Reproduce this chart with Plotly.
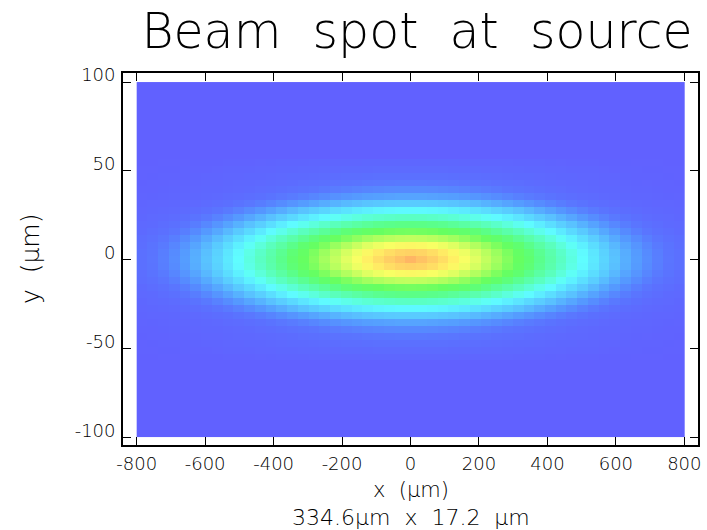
import numpy as np
import plotly.graph_objects as go

# ---------------- data ----------------
title_text = "Beam spot at source"
x_label = "x (μm)"
y_label = "y (μm)"
size_label = "334.6μm\u00a0 x\u00a0 17.2\u00a0 μm"

x_span = [-800, 800]          # histogram range in x (µm)
y_span = [-100, 100]          # histogram range in y (µm)
x_ticks = [-800, -600, -400, -200, 0, 200, 400, 600, 800]
x_ticktext = ["-800", "-600", "-400", "-200", "0", "200", "400", "600", "800"]
y_ticks = [-100, -50, 0, 50, 100]
y_ticktext = ["-100", "-50", "0", "50", "100"]

# relative intensity per bin along x (51 bins, left -> right)
profile_x = [0.044, 0.056, 0.071, 0.089, 0.110, 0.135, 0.164, 0.198, 0.236, 0.278,
             0.325, 0.375, 0.430, 0.487, 0.546, 0.607, 0.667, 0.726, 0.783, 0.835,
             0.882, 0.923, 0.956, 0.980, 0.995, 1.000, 0.995, 0.980, 0.956, 0.923,
             0.882, 0.835, 0.783, 0.726, 0.667, 0.607, 0.546, 0.487, 0.430, 0.375,
             0.325, 0.278, 0.236, 0.198, 0.164, 0.135, 0.110, 0.089, 0.071, 0.056,
             0.044]

# relative intensity per bin along y (51 bins, bottom -> top)
profile_y = [0.0, 0.0, 0.0, 0.0, 0.0, 0.0, 0.0, 0.0, 0.0, 0.0,
             0.0, 0.015, 0.030, 0.045, 0.062, 0.085, 0.120, 0.180, 0.270, 0.375,
             0.500, 0.635, 0.780, 0.900, 0.975, 1.000, 0.975, 0.900, 0.780, 0.635,
             0.500, 0.375, 0.270, 0.180, 0.120, 0.085, 0.062, 0.045, 0.030, 0.015,
             0.0, 0.0, 0.0, 0.0, 0.0, 0.0, 0.0, 0.0, 0.0, 0.0,
             0.0]

# ---------------- colour palette ----------------
level_values = [0.0, 0.008, 0.03, 0.044, 0.056, 0.071, 0.089, 0.110, 0.135, 0.164,
                0.198, 0.236, 0.278, 0.325, 0.375, 0.430, 0.487, 0.546, 0.607, 0.667,
                0.726, 0.783, 0.835, 0.882, 0.923, 0.956, 0.980, 0.995, 1.0]
level_colors = ["rgb(97,97,255)", "rgb(95,101,255)", "rgb(93,107,255)", "rgb(91,112,255)",
                "rgb(90,117,255)", "rgb(88,127,255)", "rgb(86,141,255)", "rgb(85,157,255)",
                "rgb(87,175,255)", "rgb(89,195,255)", "rgb(90,213,255)", "rgb(92,233,255)",
                "rgb(95,253,255)", "rgb(92,255,225)", "rgb(90,255,195)", "rgb(90,255,168)",
                "rgb(90,255,140)", "rgb(95,255,112)", "rgb(102,255,97)", "rgb(132,255,95)",
                "rgb(165,255,95)", "rgb(195,255,95)", "rgb(225,255,98)", "rgb(248,255,100)",
                "rgb(255,240,100)", "rgb(255,222,100)", "rgb(255,207,100)", "rgb(255,195,100)",
                "rgb(255,182,100)"]
colorscale = [[v, c] for v, c in zip(level_values, level_colors)]

z = np.outer(np.array(profile_y), np.array(profile_x))
nx, ny = len(profile_x), len(profile_y)
dx = (x_span[1] - x_span[0]) / nx
dy = (y_span[1] - y_span[0]) / ny

FONT = "DejaVu Sans, Inter, sans-serif"
W = 200

fig = go.Figure(go.Heatmap(
    z=z, x0=x_span[0] + dx / 2, dx=dx, y0=y_span[0] + dy / 2, dy=dy,
    colorscale=colorscale, zmin=0, zmax=1, showscale=False, zsmooth=False,
    hoverinfo="skip"))

axis_common = dict(showline=True, linewidth=1.8, linecolor="black", mirror="ticks",
                   ticks="inside", ticklen=8, tickwidth=1.3, tickcolor="black",
                   showgrid=False, zeroline=False, automargin=False,
                   tickfont=dict(family=FONT, size=18, color="black", weight=W))

fig.update_layout(
    width=707, height=530,
    margin=dict(l=123, r=9, t=73, b=85, autoexpand=False),
    paper_bgcolor="white", plot_bgcolor="white",
    title=dict(text="\u00a0\u00a0".join(title_text.split(" ")), x=417 / 707, xanchor="center",
               y=1 - 31 / 530, yanchor="middle", automargin=False,
               font=dict(family=FONT, size=49, color="black", weight=W)),
    xaxis=dict(range=[-840, 840], tickvals=x_ticks, ticktext=x_ticktext,
               ticklabelstandoff=1, **axis_common),
    yaxis=dict(range=[-104.2, 105.1], tickvals=y_ticks, ticktext=y_ticktext,
               ticklabelshift=-7, ticklabelstandoff=2, **axis_common),
    annotations=[
        dict(text="x\u00a0 (μm)", xref="paper", yref="paper", x=0.5, y=0, yanchor="middle",
             yshift=-45, showarrow=False,
             font=dict(family=FONT, size=21, color="black", weight=W)),
        dict(text=size_label, xref="paper", yref="paper", x=0.5, y=0, yanchor="middle",
             yshift=-72, showarrow=False,
             font=dict(family=FONT, size=22, color="black", weight=W)),
        dict(text="y\u00a0 (μm)", xref="paper", yref="paper", x=0, y=0.5, xanchor="center",
             xshift=-93, textangle=-90, showarrow=False,
             font=dict(family=FONT, size=25, color="black", weight=W)),
    ],
)

fig.write_html("out.html", config={"displayModeBar": False},
               post_script="document.body.style.margin='0';document.body.style.padding='0';")
